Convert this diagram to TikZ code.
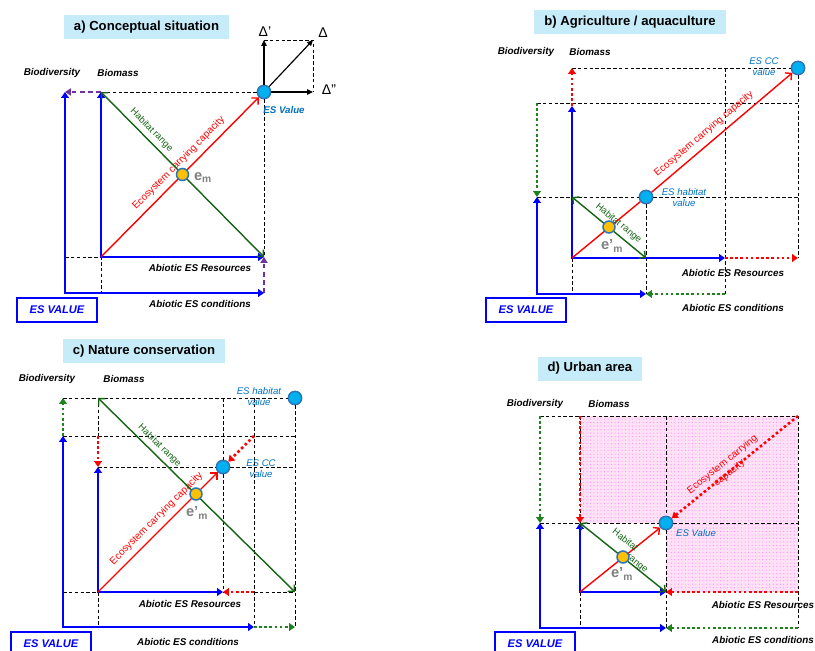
\documentclass[tikz,border=0pt]{standalone}
\usepackage{fontspec}
\setmainfont{Liberation Sans}
\usetikzlibrary{arrows.meta,patterns}
\definecolor{axBlue}{RGB}{0,0,255}
\definecolor{ccRed}{RGB}{255,0,0}
\definecolor{habGreen}{RGB}{20,100,20}
\definecolor{dotGreen}{RGB}{30,130,30}
\definecolor{shiftPurple}{RGB}{112,48,160}
\definecolor{esText}{RGB}{0,112,192}
\definecolor{dotFill}{RGB}{0,176,240}
\definecolor{dotRing}{RGB}{46,117,182}
\definecolor{emFill}{RGB}{255,192,0}
\definecolor{emGray}{RGB}{128,128,128}
\definecolor{ttlBlue}{RGB}{198,236,250}
\definecolor{urbanPink}{RGB}{255,225,245}

\begin{document}
\begin{tikzpicture}[x=0.3mm,y=-0.3mm,
    grid/.style={dash pattern=on 3pt off 2pt,line width=0.8pt},
    axis/.style={axBlue,line width=2.4pt,{Triangle[length=5pt,width=6.5pt]}-{Triangle[length=5pt,width=6.5pt]}},
    ccarr/.style={ccRed,line width=1.2pt,-{Straight Barb[length=4pt,width=8pt]}},
    hab/.style={habGreen,line width=1.2pt,{Straight Barb[length=4pt,width=8pt]}-{Straight Barb[length=4pt,width=8pt]}},
    shiftdot/.style={line width=2.2pt,dash pattern=on 2.2pt off 2.2pt,-{Triangle[length=5pt,width=6.5pt]}},
    purp/.style={shiftPurple,line width=1.5pt,dash pattern=on 4pt off 3pt,-{Triangle[length=5pt,width=6pt]}},
    delta/.style={line width=1pt,-{Triangle[length=5pt,width=4.5pt]}},
    esdot/.style={circle,fill=dotFill,draw=dotRing,line width=1.3pt,minimum size=4mm,inner sep=0pt},
    emdot/.style={esdot,fill=emFill,minimum size=3.6mm},
    ttl/.style={fill=ttlBlue,font=\fontsize{11.2}{13}\selectfont\bfseries,minimum height=7.2mm,inner xsep=3mm},
    axlab/.style={font=\fontsize{8.4}{10}\selectfont\bfseries\itshape},
    valbox/.style={draw=axBlue,line width=1.1pt,fill=white,text=axBlue,font=\fontsize{9.5}{11}\selectfont\bfseries\itshape,
                   minimum width=24mm,minimum height=7.2mm},
    eslab/.style={text=esText,font=\fontsize{8.2}{9.5}\selectfont\itshape,align=center},
    cctext/.style={text=ccRed,font=\fontsize{8.5}{9.5}\selectfont,inner sep=1.5pt},
    cclab/.style={cctext,sloped,above=3pt},
    habtext/.style={text=habGreen,font=\fontsize{8}{9}\selectfont,inner sep=1.5pt},
    hablab/.style={habtext,sloped,above=2pt},
    emlab/.style={text=emGray,font=\fontsize{12.5}{14}\selectfont\bfseries},
    dlab/.style={font=\fontsize{12}{14}\selectfont}]
  \useasboundingbox (0,0) rectangle (815,651);

  % a) conceptual situation
  \node[ttl] (a-ttl) at (146.5,27) {a) Conceptual situation};
  \coordinate (a-O1) at (65,293);
  \coordinate (a-O2) at (101,257);
  \coordinate (a-bd) at (65,92);
  \coordinate (a-bm) at (101,92);
  \coordinate (a-rs) at (264,257);
  \coordinate (a-cd) at (264,293);
  \coordinate (a-c1) at (65,257);
  \coordinate (a-c2) at (101,293);
  \coordinate (a-d1) at (264,40);
  \coordinate (a-d2) at (313,40);
  \coordinate (a-d3) at (313,92);
  \node[esdot] (a-es) at (264,92) {};
  \draw[grid] (a-c1) -- (a-O2) -- (a-c2);
  \draw[grid] (a-bm) -- (a-es) -- (a-rs);
  \draw[grid] (a-d1) -- (a-d2) -- (a-d3);
  \draw[purp] (a-bm) -- (a-bd);
  \draw[purp] (a-cd) -- (a-rs);
  \draw[axis] (a-bd) -- (a-O1) -- (a-cd);
  \draw[axis] (a-bm) -- (a-O2) -- (a-rs);
  \draw[ccarr] (a-O2) -- node[cclab,pos=0.54] {Ecosystem carrying capacity} (a-es);
  \draw[hab] (a-bm) -- node[hablab,pos=0.27] {Habitat range} (a-rs);
  \draw[delta] (a-es) -- (a-d1);
  \draw[delta] (a-es) -- (a-d2);
  \draw[delta] (a-es) -- (a-d3);
  \node[emdot] (a-em) at (182.5,174.5) {};
  \node[emlab] (a-eml) at (203,178) {e\textsubscript{m}};
  \node[dlab] (a-dl1) at (265,32) {Δ'};
  \node[dlab] (a-dl2) at (323,33) {Δ};
  \node[dlab] (a-dl3) at (329,90) {Δ"};
  \node[eslab,font=\fontsize{8.3}{9.5}\selectfont\bfseries\itshape] (a-esl) at (284,110) {ES Value};
  \node[axlab] (a-bdl) at (52,73) {Biodiversity};
  \node[axlab] (a-bml) at (118,73) {Biomass};
  \node[axlab] (a-rsl) at (200,268) {Abiotic ES Resources};
  \node[axlab] (a-cdl) at (200,304) {Abiotic ES conditions};
  \node[valbox] (a-val) at (57,310) {ES VALUE};

  % b) agriculture / aquaculture
  \node[ttl] (b-ttl) at (630,22) {b) Agriculture / aquaculture};
  \coordinate (b-O1) at (537,294);
  \coordinate (b-O2) at (572,258);
  \coordinate (b-bd) at (537,197);
  \coordinate (b-bm) at (572,106);
  \coordinate (b-rs) at (725,258);
  \coordinate (b-cd) at (646,294);
  \coordinate (b-bm2) at (572,68);
  \coordinate (b-rs2) at (798,258);
  \coordinate (b-bd1) at (537,103);
  \coordinate (b-cd1) at (725,294);
  \coordinate (b-g1) at (798,103);
  \coordinate (b-g2) at (798,197);
  \coordinate (b-v1) at (725,68);
  \coordinate (b-c2) at (572,294);
  \coordinate (b-hr1) at (572,197);
  \coordinate (b-hr2) at (646,258);
  \node[esdot] (b-cc) at (798,68) {};
  \node[esdot] (b-hv) at (646,197) {};
  \draw[grid] (b-bm2) -- (b-cc) -- (b-rs2);
  \draw[grid] (b-bd1) -- (b-g1);
  \draw[grid] (b-bd) -- (b-hv) -- (b-g2);
  \draw[grid] (b-v1) -- (b-cd1);
  \draw[grid] (b-hv) -- (b-cd);
  \draw[grid] (b-O2) -- (b-c2);
  \draw[shiftdot,ccRed] (b-bm) -- (b-bm2);
  \draw[shiftdot,ccRed] (b-rs) -- (b-rs2);
  \draw[shiftdot,dotGreen] (b-bd1) -- (b-bd);
  \draw[shiftdot,dotGreen] (b-cd1) -- (b-cd);
  \draw[axis] (b-bd) -- (b-O1) -- (b-cd);
  \draw[axis] (b-bm) -- (b-O2) -- (b-rs);
  \draw[ccRed,line width=1.2pt] (b-O2) -- (b-hv);
  \draw[ccarr] (b-hv) -- node[cclab,pos=0.42] {Ecosystem carrying capacity} (b-cc);
  \draw[hab] (b-hr1) -- node[hablab,pos=0.55] {Habitat range} (b-hr2);
  \node[emdot] (b-em) at (609,227) {};
  \node[emlab] (b-eml) at (612,246) {e’\textsubscript{m}};
  \node[eslab] (b-ccl) at (764,67) {ES CC\\value};
  \node[eslab] (b-hvl) at (684,198) {ES habitat\\value};
  \node[axlab] (b-bdl) at (526,52) {Biodiversity};
  \node[axlab] (b-bml) at (590,52) {Biomass};
  \node[axlab] (b-rsl) at (733,273) {Abiotic ES Resources};
  \node[axlab] (b-cdl) at (733,308) {Abiotic ES conditions};
  \node[valbox] (b-val) at (526,310) {ES VALUE};

  % c) nature conservation
  \node[ttl] (c-ttl) at (144,351) {c) Nature conservation};
  \coordinate (c-O1) at (63,627);
  \coordinate (c-O2) at (98,592);
  \coordinate (c-bd) at (63,436);
  \coordinate (c-bm) at (98,467);
  \coordinate (c-rs) at (223,592);
  \coordinate (c-cd) at (254,627);
  \coordinate (c-bd2) at (63,398);
  \coordinate (c-cd2) at (295,627);
  \coordinate (c-bm1) at (98,436);
  \coordinate (c-rs1) at (254,592);
  \coordinate (c-x1) at (254,436);
  \coordinate (c-hr1) at (98,398);
  \coordinate (c-hr2) at (295,592);
  \coordinate (c-g1) at (295,436);
  \coordinate (c-g2) at (295,467);
  \coordinate (c-c1) at (63,592);
  \coordinate (c-c2) at (98,627);
  \coordinate (c-v1) at (223,398);
  \coordinate (c-v2) at (254,398);
  \node[esdot] (c-hv) at (295,398) {};
  \node[esdot] (c-cc) at (223,467) {};
  \draw[grid] (c-bd2) -- (c-hv) -- (c-cd2);
  \draw[grid] (c-bd) -- (c-g1);
  \draw[grid] (c-bm) -- (c-cc) -- (c-g2);
  \draw[grid] (c-c1) -- (c-O2) -- (c-c2);
  \draw[grid] (c-rs1) -- (c-hr2);
  \draw[grid] (c-hr1) -- (c-bm1);
  \draw[grid] (c-v1) -- (c-cc) -- (c-rs);
  \draw[grid] (c-v2) -- (c-cd);
  \draw[shiftdot,ccRed] (c-bm1) -- (c-bm);
  \draw[shiftdot,ccRed] (c-rs1) -- (c-rs);
  \draw[shiftdot,ccRed] (c-x1) -- (c-cc);
  \draw[shiftdot,dotGreen] (c-bd) -- (c-bd2);
  \draw[shiftdot,dotGreen] (c-cd) -- (c-cd2);
  \draw[axis] (c-bd) -- (c-O1) -- (c-cd);
  \draw[axis] (c-bm) -- (c-O2) -- (c-rs);
  \draw[ccarr] (c-O2) -- node[cclab,pos=0.55] {Ecosystem carrying capacity} (c-cc);
  \draw[hab] (c-hr1) -- node[hablab,pos=0.28] {Habitat range} (c-hr2);
  \node[emdot] (c-em) at (196,494) {};
  \node[emlab] (c-eml) at (197,513) {e’\textsubscript{m}};
  \node[eslab] (c-hvl) at (259,397) {ES habitat\\value};
  \node[eslab] (c-ccl) at (261,469) {ES CC\\value};
  \node[axlab] (c-bdl) at (47,379) {Biodiversity};
  \node[axlab] (c-bml) at (124,379) {Biomass};
  \node[axlab] (c-rsl) at (190,604) {Abiotic ES Resources};
  \node[axlab] (c-cdl) at (188,642) {Abiotic ES conditions};
  \node[valbox] (c-val) at (51,644) {ES VALUE};

  % d) urban area
  \node[ttl] (d-ttl) at (590,368.5) {d) Urban area};
  \coordinate (d-O1) at (540,628);
  \coordinate (d-O2) at (580,592);
  \coordinate (d-bd) at (540,523);
  \coordinate (d-bm) at (580,523);
  \coordinate (d-rs) at (666,592);
  \coordinate (d-cd) at (666,628);
  \coordinate (d-bd1) at (540,416);
  \coordinate (d-cd1) at (798,628);
  \coordinate (d-bm1) at (580,416);
  \coordinate (d-rs1) at (798,592);
  \coordinate (d-x1) at (798,416);
  \coordinate (d-g1) at (798,523);
  \coordinate (d-v1) at (666,416);
  \coordinate (d-c2) at (580,628);
  \coordinate (d-esc) at (666,523);
  \fill[urbanPink] (d-bm1) -- (d-x1) -- (d-rs1) -- (d-rs) -- (d-esc) -- (d-bm) -- cycle;
  \fill[pattern=dots,pattern color=magenta!45] (d-bm1) -- (d-x1) -- (d-rs1) -- (d-rs) -- (d-esc) -- (d-bm) -- cycle;
  \node[esdot] (d-es) at (d-esc) {};
  \draw[grid] (d-bd1) -- (d-x1) -- (d-cd1);
  \draw[grid] (d-bd) -- (d-es) -- (d-g1);
  \draw[grid] (d-v1) -- (d-es) -- (d-cd);
  \draw[grid] (d-O2) -- (d-c2);
  \draw[grid] (d-bm1) -- (d-bm);
  \draw[shiftdot,ccRed] (d-bm1) -- (d-bm);
  \draw[shiftdot,ccRed] (d-rs1) -- (d-rs);
  \draw[shiftdot,ccRed] (d-x1) -- (d-es);
  \draw[shiftdot,dotGreen] (d-bd1) -- (d-bd);
  \draw[shiftdot,dotGreen] (d-cd1) -- (d-cd);
  \draw[axis] (d-bd) -- (d-O1) -- (d-cd);
  \draw[axis] (d-bm) -- (d-O2) -- (d-rs);
  \draw[ccarr] (d-O2) -- (d-es);
  \draw[hab] (d-bm) -- (d-rs);
  \node[cctext,rotate=39,align=center] (d-ccl) at (726,469) {Ecosystem carrying\\capacity};
  \node[habtext,rotate=-38.7,align=left] (d-habl) at (630,551) {Habitat\\\hphantom{Habita}range};
  \node[emdot] (d-em) at (623,557) {};
  \node[emlab] (d-eml) at (622,574) {e’\textsubscript{m}};
  \node[eslab] (d-esl) at (696,533) {ES Value};
  \node[axlab] (d-bdl) at (535,404) {Biodiversity};
  \node[axlab] (d-bml) at (609,404) {Biomass};
  \node[axlab] (d-rsl) at (763,605) {Abiotic ES Resources};
  \node[axlab] (d-cdl) at (763,640) {Abiotic ES conditions};
  \node[valbox] (d-val) at (535,644) {ES VALUE};
\end{tikzpicture}
\end{document}
